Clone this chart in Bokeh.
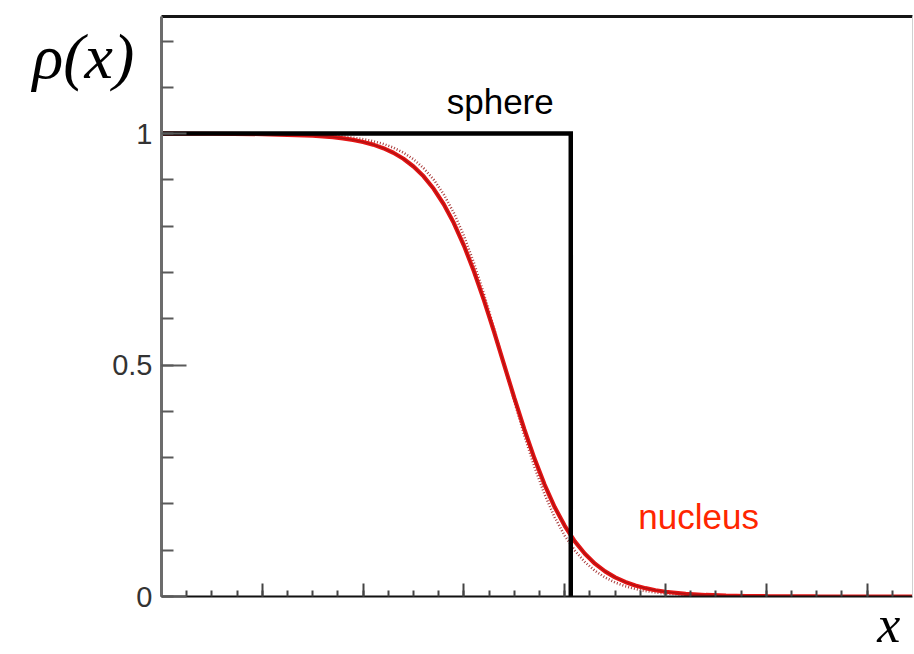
from bokeh.plotting import figure
from bokeh.models import (Range1d, SingleIntervalTicker, LinearAxis, FixedTicker,
                          CustomJSTickFormatter, Label)
from bokeh.embed import file_html
from bokeh.resources import INLINE

# Nuclear density profile (smooth surface) sampled along x
x_nucleus = [0.0, 0.5, 1.0, 1.5, 1.6, 1.7, 1.8, 1.9, 2.0, 2.1, 2.2, 2.3, 2.4, 2.5,
             2.6, 2.7, 2.8, 2.9, 3.0, 3.1, 3.2, 3.3, 3.4, 3.5, 3.6, 3.7, 3.8, 3.9,
             4.0, 4.1, 4.2, 4.3, 4.4, 4.5, 4.6, 4.7, 4.8, 4.9, 5.0, 5.2, 5.4, 5.6,
             5.8, 6.0, 6.5, 7.0, 7.45]
rho_nucleus = [1.0, 0.9997, 0.9990, 0.9956, 0.9942, 0.9923, 0.9898, 0.9864, 0.9820,
               0.9762, 0.9686, 0.9586, 0.9457, 0.9290, 0.9077, 0.8808, 0.8474,
               0.8067, 0.7582, 0.7022, 0.6391, 0.5710, 0.5, 0.4290, 0.3609, 0.2979,
               0.2418, 0.1933, 0.1526, 0.1192, 0.0923, 0.0710, 0.0543, 0.0414,
               0.0314, 0.0238, 0.0180, 0.0136, 0.0102, 0.0058, 0.0033, 0.0019,
               0.0011, 0.0006, 0.0001, 0.0, 0.0]
# Sharper-surface variant (dotted)
rho_nucleus_sharp = [1.0, 0.9999, 0.9995, 0.9975, 0.9966, 0.9953, 0.9936, 0.9912,
                     0.9880, 0.9836, 0.9777, 0.9697, 0.9589, 0.9445, 0.9255, 0.9007,
                     0.8687, 0.8285, 0.7790, 0.7201, 0.6525, 0.5781, 0.5, 0.4219,
                     0.3475, 0.2799, 0.2210, 0.1715, 0.1313, 0.0993, 0.0745, 0.0555,
                     0.0411, 0.0303, 0.0223, 0.0164, 0.0120, 0.0088, 0.0064, 0.0034,
                     0.0018, 0.0010, 0.0005, 0.0003, 0.0001, 0.0, 0.0]

# Hard sphere: constant density up to the radius, zero beyond
sphere_radius = 4.06
sphere_x = [0.0, sphere_radius, sphere_radius]
sphere_y = [1.0, 1.0, 0.0]

y_ticks = [0, 0.5, 1]
y_tick_labels = ["0", "0.5", "1"]

X_MAX = 7.45
Y_MAX = 1.253

p = figure(width=914, height=654, output_backend="svg", toolbar_location=None,
           x_range=Range1d(0, X_MAX), y_range=Range1d(0, Y_MAX),
           x_axis_type=None, y_axis_type=None,
           min_border_left=161, min_border_right=2,
           min_border_top=16, min_border_bottom=58)
p.background_fill_color = "white"
p.border_fill_color = "white"
p.outline_line_color = None
p.xgrid.visible = False
p.ygrid.visible = False

# Left axis with labelled ticks at 0, 0.5, 1
yaxis = LinearAxis(ticker=SingleIntervalTicker(interval=0.5, num_minor_ticks=5),
                   formatter=CustomJSTickFormatter(
                       args=dict(vals=y_ticks, labels=y_tick_labels),
                       code="const i = vals.indexOf(tick); return i >= 0 ? labels[i] : '';"))
yaxis.axis_line_color = "#6c6c6c"
yaxis.axis_line_width = 3
yaxis.major_tick_line_color = "#5a5a5a"
yaxis.major_tick_line_width = 2
yaxis.minor_tick_line_color = "#5a5a5a"
yaxis.minor_tick_line_width = 2
yaxis.major_tick_in = 25
yaxis.major_tick_out = 0
yaxis.minor_tick_in = 12
yaxis.minor_tick_out = 0
yaxis.major_label_standoff = 9
yaxis.major_label_text_font = "Liberation Sans"
yaxis.major_label_text_font_size = "29px"
yaxis.major_label_text_color = "#333333"
p.add_layout(yaxis, "left")

# Bottom axis: ticks only
xaxis = LinearAxis(ticker=SingleIntervalTicker(interval=1, num_minor_ticks=4))
xaxis.axis_line_color = "#111111"
xaxis.axis_line_width = 2
xaxis.major_tick_line_color = "#444444"
xaxis.major_tick_line_width = 2
xaxis.minor_tick_line_color = "#444444"
xaxis.minor_tick_line_width = 2
xaxis.major_tick_in = 13
xaxis.major_tick_out = 0
xaxis.minor_tick_in = 6
xaxis.minor_tick_out = 0
xaxis.major_label_text_color = None
xaxis.major_label_text_font_size = "1px"
xaxis.major_label_standoff = 0
p.add_layout(xaxis, "below")

# Frame edges on top and right
top_edge = LinearAxis(ticker=FixedTicker(ticks=[]), axis_line_color="#151515",
                      axis_line_width=3, major_label_text_color=None,
                      major_label_text_font_size="1px")
p.add_layout(top_edge, "above")
right_edge = LinearAxis(ticker=FixedTicker(ticks=[]), axis_line_color="#d0d0d0",
                        axis_line_width=1, major_label_text_color=None,
                        major_label_text_font_size="1px")
p.add_layout(right_edge, "right")

# Curves
p.line(x_nucleus, rho_nucleus_sharp, line_color="#a02828", line_width=2.6,
       line_dash="1 2", line_alpha=0.9)
p.line(x_nucleus, rho_nucleus, line_color="#e31414", line_width=4.2)
p.line(x_nucleus, rho_nucleus, line_color="#8a1010", line_width=1.2, line_alpha=0.6)
p.line(sphere_x, sphere_y, line_color="black", line_width=4.5, line_join="miter")

# Text annotations inside the frame
p.add_layout(Label(x=sphere_radius - 0.7, y=1.069, text="sphere", text_align="center",
                   text_baseline="alphabetic", text_font="Liberation Sans",
                   text_font_size="35px", text_color="black"))
p.add_layout(Label(x=4.73, y=0.173, text="nucleus", text_align="left",
                   text_baseline="alphabetic", text_font="Liberation Sans",
                   text_font_size="35px", text_color="#ff2600"))

# Axis titles placed in the side panels, outside the frame
p.add_layout(Label(x=-1.28, y=1.166, text="ρ(x)", text_align="left",
                   text_baseline="alphabetic", text_font="Liberation Serif",
                   text_font_style="italic", text_font_size="64px",
                   text_color="black"), "left")
p.add_layout(Label(x=7.1, y=-0.060, text="x", text_align="left",
                   text_baseline="alphabetic", text_font="Liberation Serif",
                   text_font_style="italic", text_font_size="52px",
                   text_color="black"), "below")

open("out.html", "w").write(file_html(p, INLINE))
